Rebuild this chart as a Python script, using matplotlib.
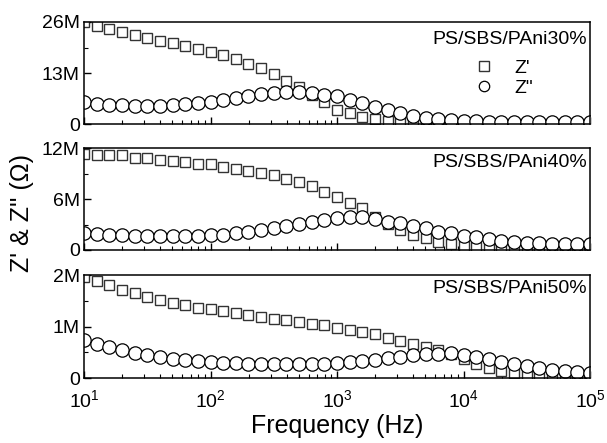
import matplotlib
matplotlib.use('Agg')
import matplotlib.pyplot as plt
from matplotlib.lines import Line2D

plt.rcParams['font.family'] = ['Liberation Sans', 'DejaVu Sans']
plt.rcParams['mathtext.fontset'] = 'custom'
plt.rcParams['mathtext.rm'] = 'Liberation Sans'
plt.rcParams['mathtext.it'] = 'Liberation Sans:italic'

# frequency sweep (Hz), 10 points per decade
freq = [10, 12.59, 15.85, 19.95, 25.12, 31.62, 39.81, 50.12, 63.10, 79.43,
        100, 125.9, 158.5, 199.5, 251.2, 316.2, 398.1, 501.2, 631.0, 794.3,
        1000, 1259, 1585, 1995, 2512, 3162, 3981, 5012, 6310, 7943,
        10000, 12590, 15850, 19950, 25120, 31620, 39810, 50120, 63100, 79430,
        100000]

# impedance values in MOhm
z1_30 = [26.0, 25.0, 24.1, 23.4, 22.7, 22.0, 21.3, 20.6, 19.9, 19.2,
         18.4, 17.5, 16.5, 15.4, 14.2, 12.8, 11.1, 9.4, 7.6, 5.6,
         3.8, 2.8, 2.0, 1.4, 0.9, 0.55, 0.3, 0.2, 0.12, 0.08,
         0.06, 0.05, 0.04, 0.04, 0.03, 0.03, 0.03, 0.02, 0.02, 0.02, 0.02]
z2_30 = [5.6, 5.3, 5.0, 4.9, 4.8, 4.8, 4.8, 4.9, 5.1, 5.4,
         5.8, 6.2, 6.7, 7.2, 7.7, 8.1, 8.3, 8.2, 7.9, 7.5,
         7.2, 6.3, 5.4, 4.5, 3.7, 2.9, 2.2, 1.7, 1.3, 1.05,
         0.9, 0.8, 0.75, 0.7, 0.7, 0.65, 0.65, 0.6, 0.6, 0.6, 0.6]

z1_40 = [11.3, 11.2, 11.2, 11.25, 10.9, 10.8, 10.65, 10.5, 10.35, 10.2,
         10.1, 9.8, 9.55, 9.35, 9.1, 8.8, 8.4, 8.0, 7.5, 6.9,
         6.2, 5.6, 4.9, 3.9, 3.1, 2.4, 1.8, 1.4, 1.0, 0.7,
         0.45, 0.3, 0.2, 0.12, 0.08, 0.05, 0.04, 0.03, 0.03, 0.02, 0.02]
z2_40 = [2.0, 1.85, 1.75, 1.75, 1.7, 1.6, 1.6, 1.6, 1.6, 1.65,
         1.75, 1.8, 2.0, 2.15, 2.35, 2.55, 2.85, 3.05, 3.35, 3.55,
         3.75, 3.85, 3.85, 3.6, 3.35, 3.15, 2.8, 2.55, 2.15, 1.95,
         1.65, 1.5, 1.25, 1.1, 0.95, 0.85, 0.8, 0.75, 0.7, 0.7, 0.65]

z1_50 = [1.97, 1.89, 1.80, 1.71, 1.65, 1.58, 1.52, 1.46, 1.42, 1.37,
         1.34, 1.30, 1.26, 1.22, 1.18, 1.15, 1.12, 1.09, 1.06, 1.03,
         0.98, 0.93, 0.89, 0.85, 0.79, 0.73, 0.66, 0.60, 0.54, 0.48,
         0.38, 0.28, 0.20, 0.14, 0.10, 0.07, 0.05, 0.04, 0.03, 0.02, 0.02]
z2_50 = [0.75, 0.66, 0.60, 0.54, 0.49, 0.45, 0.41, 0.38, 0.35, 0.33,
         0.31, 0.30, 0.29, 0.28, 0.27, 0.27, 0.27, 0.27, 0.27, 0.28,
         0.30, 0.32, 0.34, 0.36, 0.39, 0.42, 0.45, 0.47, 0.48, 0.49,
         0.46, 0.42, 0.37, 0.32, 0.27, 0.23, 0.20, 0.17, 0.15, 0.12, 0.10]

names = ['PS/SBS/PAni30%', 'PS/SBS/PAni40%', 'PS/SBS/PAni50%']
ymax = [26, 12, 2]
yticks = [[0, 13, 26], [0, 6, 12], [0, 1, 2]]
ylabels = [['0', '13M', '26M'], ['0', '6M', '12M'], ['0', '1M', '2M']]
series = [(z1_30, z2_30), (z1_40, z2_40), (z1_50, z2_50)]
name_y = [0.91, 0.94, 0.95]

fig = plt.figure(figsize=(6.07, 4.43), dpi=100)
boxes = [[0.1384, 0.719, 0.8336, 0.2314],
         [0.1384, 0.4357, 0.8336, 0.2296],
         [0.1384, 0.146, 0.8336, 0.2332]]

for i in range(3):
    ax = fig.add_axes(boxes[i])
    zr, zi = series[i]
    ax.plot(freq, zr, 's', ms=7.8, mfc='white', mec='#333333', mew=1.0)
    ax.plot(freq, zi, 'o', ms=9.6, mfc='white', mec='black', mew=0.9)
    ax.set_xscale('log')
    ax.set_xlim(10, 1e5)
    ax.set_ylim(0, ymax[i])
    ax.set_yticks(yticks[i])
    ax.set_yticklabels(ylabels[i])
    ax.set_yticks([yticks[i][1] / 2, yticks[i][1] * 1.5], minor=True)
    ax.tick_params(which='both', direction='in', top=False, right=False, labelsize=14)
    ax.tick_params(which='major', length=5, width=1)
    ax.tick_params(which='minor', length=3, width=0.8)
    ax.tick_params(axis='y', which='major', pad=3)
    for s in ax.spines.values():
        s.set_linewidth(1.1)
    ax.text(0.995, name_y[i], names[i], transform=ax.transAxes, ha='right', va='top', fontsize=14)
    if i < 2:
        ax.tick_params(axis='x', which='both', labelbottom=False)
    else:
        ax.set_xticks([10, 100, 1000, 10000, 100000])
        ax.set_xticklabels(['$10^1$', '$10^2$', '$10^3$', '$10^4$', '$10^5$'])
        ax.tick_params(axis='x', which='major', labelsize=14, pad=8)
        ax.set_xlabel('Frequency (Hz)', fontsize=18, labelpad=2)
    if i == 0:
        h1 = Line2D([], [], ls='none', marker='s', ms=6.5, mfc='white', mec='#333333', mew=1.0)
        h2 = Line2D([], [], ls='none', marker='o', ms=7.5, mfc='white', mec='black', mew=0.9)
        ax.legend([h1, h2], ["Z'", 'Z"'], loc='upper right', bbox_to_anchor=(0.915, 0.77),
                  frameon=False, fontsize=14, handlelength=1.0, handletextpad=1.1,
                  labelspacing=0.15, borderpad=0.2)

fig.text(0.036, 0.52, "Z' & Z'' (\u03a9)", rotation=90, ha='center', va='center', fontsize=18)

fig.savefig('out.png', dpi=100)
